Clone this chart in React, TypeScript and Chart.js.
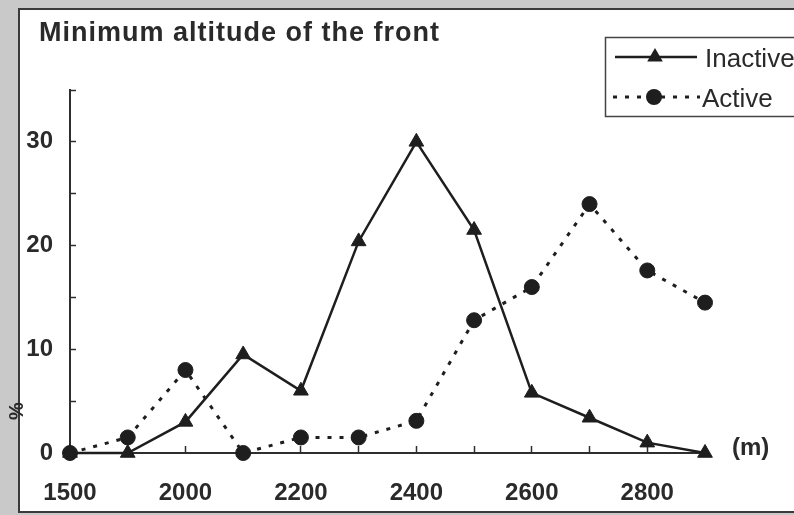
import React, { useEffect, useRef } from "react";
import { Chart, registerables } from "chart.js";

Chart.register(...registerables);

const categories = ["1500", "1900", "2000", "2100", "2200", "2300", "2400", "2500", "2600", "2700", "2800", "2900"];
const xTickLabels = ["1500", "", "2000", "", "2200", "", "2400", "", "2600", "", "2800", ""];
const inactive = [0, 0, 3, 9.5, 6, 20.4, 30, 21.5, 5.8, 3.4, 1.0, 0];
const active = [0, 1.5, 8, 0, 1.5, 1.5, 3.1, 12.8, 16, 24, 17.6, 14.5];
const yLabelValues = [0, 10, 20, 30];
const titleText = "Minimum altitude of the front";
const seriesNames = ["Inactive", "Active"];
const xUnit = "(m)";
const yUnit = "%";

const FONT = "'Liberation Sans', Arial, Helvetica, sans-serif";
const INK = "#1e1e1e";
const AXIS = "#2e2e2e";

function drawTriangle(ctx: CanvasRenderingContext2D, x: number, y: number, r: number) {
  ctx.beginPath();
  let rad = 0;
  for (let i = 0; i < 3; i++) {
    const px = x + Math.sin(rad) * r;
    const py = y - Math.cos(rad) * r;
    if (i === 0) ctx.moveTo(px, py);
    else ctx.lineTo(px, py);
    rad += (2 * Math.PI) / 3;
  }
  ctx.closePath();
  ctx.fill();
}

const decorPlugin = {
  id: "decor",
  beforeDraw(chart: any) {
    const ctx: CanvasRenderingContext2D = chart.ctx;
    const w = chart.width;
    const h = chart.height;
    ctx.save();
    ctx.fillStyle = "#c9c9c9";
    ctx.fillRect(0, 0, w, h);
    ctx.fillStyle = "#ffffff";
    ctx.fillRect(19, 9, w - 19 + 10, h - 9 - 2);
    ctx.strokeStyle = "#3a3a3a";
    ctx.lineWidth = 2;
    ctx.strokeRect(19, 9, w - 19 + 10, h - 9 - 3);
    ctx.restore();
  },
  afterDraw(chart: any) {
    const ctx: CanvasRenderingContext2D = chart.ctx;
    ctx.save();
    // Title
    ctx.fillStyle = "#2a2a2a";
    ctx.font = `bold 27px ${FONT}`;
    (ctx as any).letterSpacing = "1px";
    ctx.textAlign = "left";
    ctx.textBaseline = "alphabetic";
    ctx.fillText(titleText, 39, 41);
    (ctx as any).letterSpacing = "0px";

    // Legend box
    ctx.strokeStyle = "#444";
    ctx.lineWidth = 1.5;
    ctx.strokeRect(605.5, 37.5, 220, 79);

    // Inactive entry
    ctx.strokeStyle = INK;
    ctx.fillStyle = INK;
    ctx.lineWidth = 2.5;
    ctx.beginPath();
    ctx.moveTo(615, 57);
    ctx.lineTo(697, 57);
    ctx.stroke();
    drawTriangle(ctx, 655, 57, 9);

    // Active entry
    ctx.lineWidth = 3;
    ctx.setLineDash([4, 8]);
    ctx.beginPath();
    ctx.moveTo(613, 97);
    ctx.lineTo(700, 97);
    ctx.stroke();
    ctx.setLineDash([]);
    ctx.beginPath();
    ctx.arc(654, 97, 8, 0, Math.PI * 2);
    ctx.fill();

    ctx.fillStyle = "#2a2a2a";
    ctx.font = `26px ${FONT}`;
    ctx.fillText(seriesNames[0], 705, 67);
    ctx.fillText(seriesNames[1], 702, 107);

    // Units
    ctx.font = `bold 24px ${FONT}`;
    ctx.textBaseline = "middle";
    ctx.fillText(xUnit, 732, 448);

    ctx.translate(17, 411);
    ctx.rotate(-Math.PI / 2);
    ctx.font = `bold 20px ${FONT}`;
    ctx.textAlign = "center";
    ctx.fillText(yUnit, 0, 0);
    ctx.restore();
  },
};

export default function App() {
  const canvasRef = useRef<HTMLCanvasElement | null>(null);

  useEffect(() => {
    if (!canvasRef.current) return;
    Chart.defaults.font.family = FONT;
    const chart = new Chart(canvasRef.current, {
      type: "line",
      data: {
        labels: categories,
        datasets: [
          {
            label: seriesNames[0],
            data: inactive,
            borderColor: INK,
            backgroundColor: INK,
            borderWidth: 2.5,
            pointStyle: "triangle",
            pointRadius: 8.5,
            pointBackgroundColor: INK,
            pointBorderColor: INK,
            pointBorderWidth: 1,
            tension: 0,
            fill: false,
            clip: false as any,
          },
          {
            label: seriesNames[1],
            data: active,
            borderColor: INK,
            backgroundColor: INK,
            borderWidth: 3,
            borderDash: [4, 8],
            pointStyle: "circle",
            pointRadius: 7.5,
            pointBackgroundColor: INK,
            pointBorderColor: INK,
            pointBorderWidth: 1,
            tension: 0,
            fill: false,
            clip: false as any,
          },
        ],
      },
      options: {
        animation: false,
        responsive: false,
        maintainAspectRatio: false,
        devicePixelRatio: 1,
        layout: { padding: { left: 0, right: 89, top: 90, bottom: 0 } },
        plugins: {
          legend: { display: false },
          title: { display: false },
          tooltip: { enabled: false },
        },
        events: [],
        scales: {
          x: {
            type: "category",
            offset: false,
            grid: {
              drawOnChartArea: false,
              drawTicks: true,
              tickLength: -7,
              tickWidth: 1.5,
              tickColor: AXIS,
              offset: false,
            },
            border: { display: true, color: AXIS, width: 2 },
            ticks: {
              autoSkip: false,
              maxRotation: 0,
              minRotation: 0,
              padding: 33,
              color: "#2a2a2a",
              font: { size: 24, weight: "bold" },
              callback: (_v: any, i: number) => xTickLabels[i],
            },
            afterFit: (s: any) => {
              s.height = 62;
            },
          },
          y: {
            min: 0,
            max: 35,
            grid: {
              drawOnChartArea: false,
              drawTicks: true,
              tickLength: -6,
              tickWidth: 1.5,
              tickColor: AXIS,
            },
            border: { display: true, color: AXIS, width: 2 },
            ticks: {
              stepSize: 5,
              padding: 23,
              color: "#2a2a2a",
              font: { size: 24, weight: "bold" },
              callback: (v: any) => (yLabelValues.includes(Number(v)) ? String(v) : ""),
            },
            afterFit: (s: any) => {
              s.width = 70;
            },
          },
        },
      } as any,
      plugins: [decorPlugin],
    });
    return () => chart.destroy();
  }, []);

  return (
    <div style={{ position: "fixed", left: 0, top: 0, width: 794, height: 515 }}>
      <canvas ref={canvasRef} width={794} height={515} style={{ display: "block", width: 794, height: 515 }} />
    </div>
  );
}
